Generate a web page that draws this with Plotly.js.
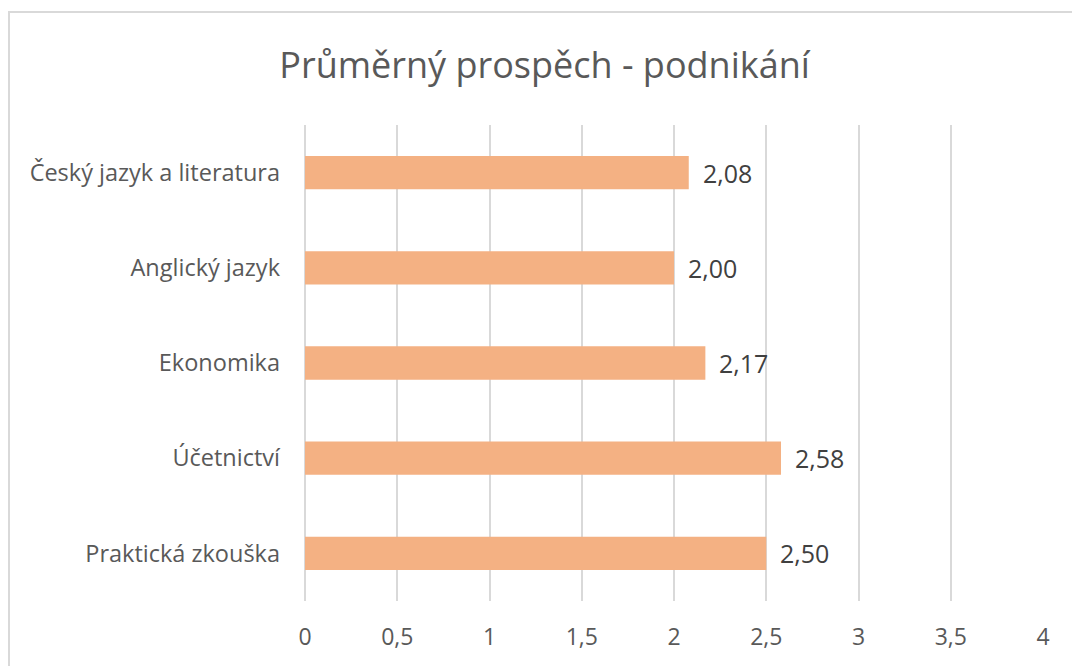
<!DOCTYPE html>
<html><head><meta charset="utf-8">
<script src="https://cdn.plot.ly/plotly-3.0.1.min.js"></script>
<style>
html,body{margin:0;padding:0;background:#fff;}
#wrap{position:relative;width:1072px;height:666px;overflow:hidden;}
#chart{width:1072px;height:666px;}
#frame{position:absolute;left:8px;top:11px;width:1100px;height:700px;border:2px solid #d9d9d9;pointer-events:none;}
</style></head>
<body><div id="wrap"><div id="chart"></div><div id="frame"></div></div>
<script>
const categories = ["Český jazyk a literatura","Anglický jazyk","Ekonomika","Účetnictví","Praktická zkouška"];
const values = [2.08, 2.00, 2.17, 2.58, 2.50];
const xTicks = [0,0.5,1,1.5,2,2.5,3,3.5,4];
const fontFam = "'Open Sans', 'Noto Sans', sans-serif";
const annotations = categories.map((c,i)=>({
  x: values[i], y: c, xref:'x', yref:'y', text: values[i].toFixed(2).replace('.',','),
  showarrow:false, xanchor:'left', xshift:12, font:{family:fontFam,size:25,color:'#404040'}
}));
Plotly.newPlot('chart',[{
  type:'bar', orientation:'h', x: values, y: categories,
  marker:{color:'#F4B183'}, hoverinfo:'none'
}],{
  width:1072,height:666,
  margin:{l:305,r:29,t:125,b:65},
  paper_bgcolor:'#fff',plot_bgcolor:'#fff',
  separators:', ',
  bargap:0.65,
  title:{text:'Průměrný prospěch - podnikání',x:0.508,xanchor:'center',y:0.902,yanchor:'middle',
    font:{family:fontFam,size:36,color:'#595959'}},
  xaxis:{range:[0,4],tickvals:xTicks,showgrid:true,gridcolor:'#d9d9d9',gridwidth:2,
    zeroline:true,zerolinecolor:'#d9d9d9',zerolinewidth:2,showline:false,ticks:'',
    ticklabelstandoff:20,tickfont:{family:fontFam,size:23,color:'#595959'},fixedrange:true},
  yaxis:{autorange:'reversed',showgrid:false,zeroline:false,showline:false,ticks:'',
    ticklabelstandoff:24,tickfont:{family:fontFam,size:23.5,color:'#595959'},fixedrange:true},
  annotations:annotations,
  showlegend:false
},{displayModeBar:false,staticPlot:true});
</script></body></html>
